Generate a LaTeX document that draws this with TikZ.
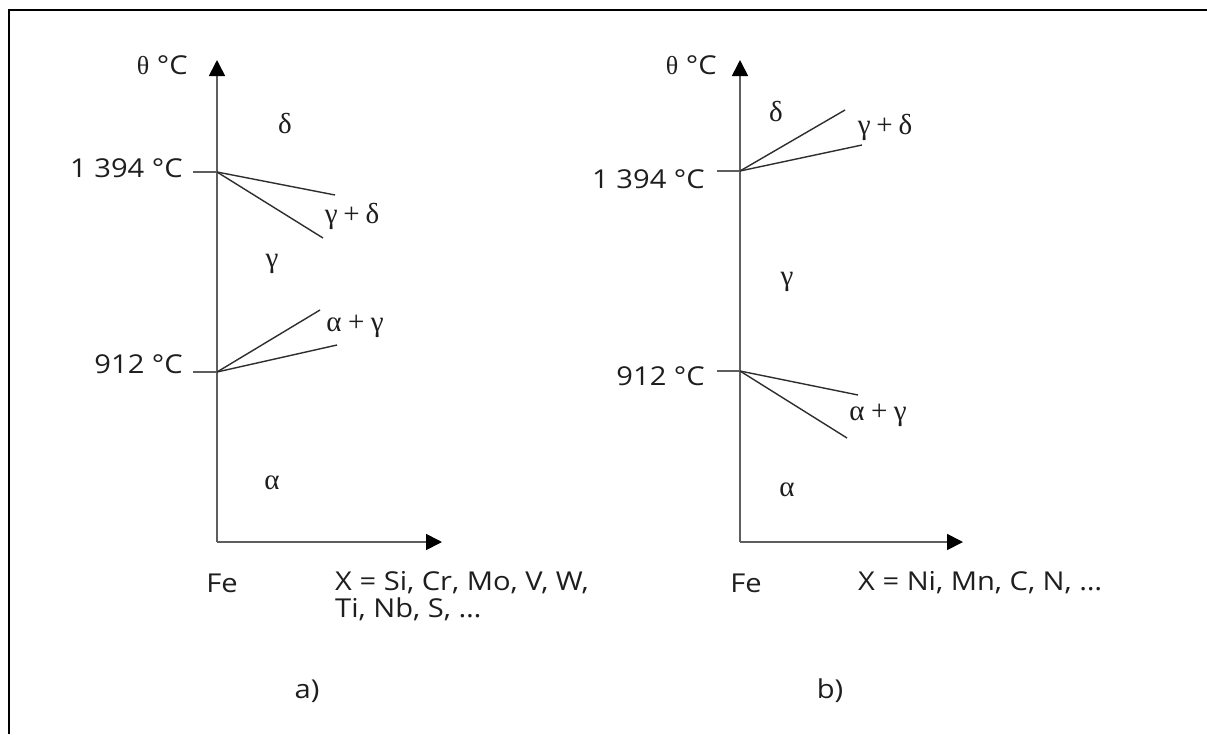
\documentclass[tikz,border=0pt]{standalone}
\usepackage{fontspec}
\setmainfont{Open Sans}[FakeStretch=1.12]
\newfontfamily\grk{Liberation Serif}
\usetikzlibrary{arrows.meta}
\definecolor{axisgray}{HTML}{5E5E5E}
\definecolor{phasec}{HTML}{2E2E2E}
\definecolor{textc}{HTML}{1E1E1E}
\begin{document}
\begin{tikzpicture}[x=1pt,y=-1pt,
  axis/.style={draw=axisgray, line width=1.7pt, -{Triangle[length=16pt,width=16pt,color=black]}},
  tickline/.style={draw=axisgray, line width=1.5pt},
  phase/.style={draw=phasec, line width=1.4pt},
  lab/.style={font=\fontsize{26}{27}\selectfont, inner sep=0pt, text=textc},
  glab/.style={font=\fontsize{29}{30}\selectfont\grk, inner sep=0pt, text=textc}]
\useasboundingbox (0,0) rectangle (1207,734);
\fill[white] (0,0) rectangle (1207,734);
% frame
\coordinate (fb) at (9,734);
\coordinate (fc) at (9,10);
\coordinate (fr) at (1207,10);
\draw[line width=2.5pt, line join=miter] (fb) -- (fc) -- (fr);

% ---------- panel a ----------
\coordinate (Oa) at (217,542);
\coordinate (Ya) at (217,60);
\coordinate (Xa) at (442,542);
\draw[axis] (Oa) -- (Ya);
\draw[axis] (Oa) -- (Xa);
\coordinate (Ta1) at (217,172);
\coordinate (ta1) at (193,172);
\coordinate (Ta2) at (217,372);
\coordinate (ta2) at (193,372);
\draw[tickline] (ta1) -- (Ta1);
\draw[tickline] (ta2) -- (Ta2);
\coordinate (pa1) at (335,195);
\coordinate (pa2) at (323,238);
\coordinate (pa3) at (320,310);
\coordinate (pa4) at (337,345);
\draw[phase] (Ta1) -- (pa1);
\draw[phase] (Ta1) -- (pa2);
\draw[phase] (Ta2) -- (pa3);
\draw[phase] (Ta2) -- (pa4);
\node[lab, anchor=east] (thetaa) at (188,65) {{\grk θ} °C};
\node[lab, anchor=east] (ta1394) at (183,168) {1 394 °C};
\node[lab, anchor=east] (ta912) at (183,364) {912 °C};
\node[glab] (deltaa) at (285,124) {δ};
\node[glab] (gda) at (352,216) {γ\hspace{0.2em}+\hspace{0.2em}δ};
\node[glab] (gammaa) at (272,264) {γ};
\node[glab] (aga) at (355,326) {α\hspace{0.22em}+\hspace{0.22em}γ};
\node[glab] (alphaa) at (272,483) {α};
\node[lab] (fea) at (222,583) {Fe};
\node[lab, anchor=north west, align=left] (xa) at (335,571) {X = Si, Cr, Mo, V, W,\\Ti, Nb, S, …};
\node[lab] (capa) at (307,691) {a)};

% ---------- panel b ----------
\coordinate (Ob) at (740,542);
\coordinate (Yb) at (740,60);
\coordinate (Xb) at (963,542);
\draw[axis] (Ob) -- (Yb);
\draw[axis] (Ob) -- (Xb);
\coordinate (Tb1) at (740,171);
\coordinate (tb1) at (717,171);
\coordinate (Tb2) at (740,371);
\coordinate (tb2) at (717,371);
\draw[tickline] (tb1) -- (Tb1);
\draw[tickline] (tb2) -- (Tb2);
\coordinate (pb1) at (845,110);
\coordinate (pb2) at (862,145);
\coordinate (pb3) at (858,395);
\coordinate (pb4) at (847,438);
\draw[phase] (Tb1) -- (pb1);
\draw[phase] (Tb1) -- (pb2);
\draw[phase] (Tb2) -- (pb3);
\draw[phase] (Tb2) -- (pb4);
\node[lab, anchor=east] (thetab) at (717,65) {{\grk θ} °C};
\node[lab, anchor=east] (tb1394) at (705,179) {1 394 °C};
\node[lab, anchor=east] (tb912) at (705,376) {912 °C};
\node[glab] (deltab) at (776,112) {δ};
\node[glab] (gdb) at (885,127) {γ\hspace{0.2em}+\hspace{0.2em}δ};
\node[glab] (gammab) at (787,282) {γ};
\node[glab] (agb) at (878,415) {α\hspace{0.22em}+\hspace{0.22em}γ};
\node[glab] (alphab) at (787,490) {α};
\node[lab] (feb) at (746,583) {Fe};
\node[lab, anchor=north west, align=left] (xb) at (858,571) {X = Ni, Mn, C, N, …};
\node[lab] (capb) at (830,691) {b)};
\end{tikzpicture}
\end{document}
